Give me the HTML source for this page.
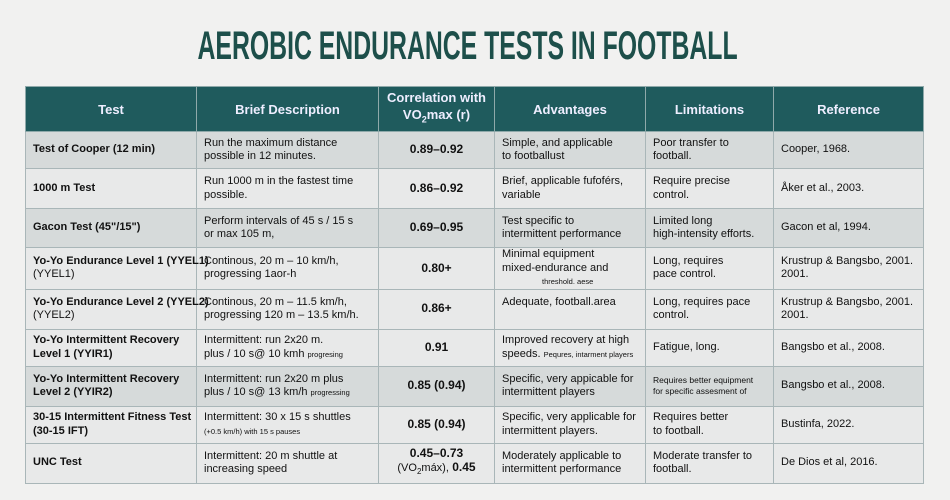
<!DOCTYPE html>
<html><head><meta charset="utf-8"><style>
*{margin:0;padding:0;box-sizing:border-box}
body{width:950px;height:500px;background:#f1f1f0;font-family:"Liberation Sans",sans-serif;position:relative;overflow:hidden}
.tw{position:absolute;left:0;width:935px;top:26px;text-align:center}
.title{display:inline-block;font-weight:bold;font-size:40px;line-height:40px;color:#1d4f4a;letter-spacing:0px;transform:scaleX(0.62);transform-origin:center;white-space:nowrap}
table{position:absolute;left:25px;top:86px;width:898px;border-collapse:collapse;table-layout:fixed}
td,th{border:1.5px solid #a9b6b8;font-size:11px;color:#111;padding:0 7px;line-height:13.5px;vertical-align:middle;white-space:nowrap;overflow:visible}
th{background:#1f5b5d;color:#eef;font-weight:bold;font-size:13px;height:45px;text-align:center;border-color:#8fa9aa;line-height:17px}
td.t{font-weight:bold}
td.c{text-align:center;font-weight:bold;font-size:12px}
tr.d td{background:#d6dada}
tr.l td{background:#e8e9e9}
small{font-size:7.5px}
</style></head><body>
<div class="tw"><div class="title">AEROBIC ENDURANCE TESTS IN FOOTBALL</div></div>
<table>
<colgroup><col style="width:171px"><col style="width:182px"><col style="width:116px"><col style="width:151px"><col style="width:128px"><col style="width:150px"></colgroup>
<tr><th>Test</th><th>Brief Description</th><th>Correlation with<br>VO<sub style="font-size:9px">2</sub>max (r)</th><th>Advantages</th><th>Limitations</th><th>Reference</th></tr>
<tr class="d" style="height:37px"><td class="t">Test of Cooper (12 min)</td><td>Run the maximum distance<br>possible in 12 minutes.</td><td class="c">0.89–0.92</td><td>Simple, and applicable<br>to footballust</td><td>Poor transfer to<br>football.</td><td>Cooper, 1968.</td></tr>
<tr class="l" style="height:40px"><td class="t">1000 m Test</td><td>Run 1000 m in the fastest time<br>possible.</td><td class="c">0.86–0.92</td><td>Brief, applicable fufoférs,<br>variable</td><td>Require precise<br>control.</td><td>Åker et al., 2003.</td></tr>
<tr class="d" style="height:39px"><td class="t">Gacon Test (45"/15")</td><td>Perform intervals of 45 s / 15 s<br>or max 105 m,</td><td class="c">0.69–0.95</td><td>Test specific to<br>intermittent performance</td><td>Limited long<br>high-intensity efforts.</td><td>Gacon et al, 1994.</td></tr>
<tr class="l" style="height:41px"><td class="t">Yo-Yo Endurance Level 1 (YYEL1)<br><span style="font-weight:normal">(YYEL1)</span></td><td>Continous, 20 m – 10 km/h,<br>progressing 1aor-h</td><td class="c">0.80+</td><td>Minimal equipment<br>mixed-endurance and<br><small style="padding-left:40px">threshold. aese</small></td><td>Long, requires<br>pace control.</td><td>Krustrup &amp; Bangsbo, 2001.<br>2001.</td></tr>
<tr class="l" style="height:40px"><td class="t">Yo-Yo Endurance Level 2 (YYEL2)<br><span style="font-weight:normal">(YYEL2)</span></td><td>Continous, 20 m – 11.5 km/h,<br>progressing 120 m – 13.5 km/h.</td><td class="c">0.86+</td><td>Adequate, football.area<br>&nbsp;</td><td>Long, requires pace<br>control.</td><td>Krustrup &amp; Bangsbo, 2001.<br>2001.</td></tr>
<tr class="l" style="height:37px"><td class="t">Yo-Yo Intermittent Recovery<br>Level 1 (YYIR1)</td><td>Intermittent: run 2x20 m.<br>plus / 10 s@ 10 kmh <small>progresing</small></td><td class="c">0.91</td><td>Improved recovery at high<br>speeds. <small>Pequres, intarment players</small></td><td>Fatigue, long.</td><td>Bangsbo et al., 2008.</td></tr>
<tr class="d" style="height:40px"><td class="t">Yo-Yo Intermittent Recovery<br>Level 2 (YYIR2)</td><td>Intermittent: run 2x20 m plus<br>plus / 10 s@ 13 km/h <small>progressing</small></td><td class="c">0.85 (0.94)</td><td>Specific, very appicable for<br>intermittent players</td><td style="font-size:8.5px;line-height:11px">Requires better equipment<br>for specific assesment of</td><td>Bangsbo et al., 2008.</td></tr>
<tr class="l" style="height:37px"><td class="t">30-15 Intermittent Fitness Test<br>(30-15 IFT)</td><td>Intermittent: 30 x 15 s shuttles<br><small>(+0.5 km/h) with 15 s pauses</small></td><td class="c">0.85 (0.94)</td><td>Specific, very applicable for<br>intermittent players.</td><td>Requires better<br>to football.</td><td>Bustinfa, 2022.</td></tr>
<tr class="l" style="height:40px"><td class="t">UNC Test</td><td>Intermittent: 20 m shuttle at<br>increasing speed</td><td class="c">0.45–0.73<br><span style="font-weight:normal;font-size:11px">(VO<sub style="font-size:8px">2</sub>máx),</span> 0.45</td><td>Moderately applicable to<br>intermittent performance</td><td>Moderate transfer to<br>football.</td><td>De Dios et al, 2016.</td></tr>
</table>
</body></html>
